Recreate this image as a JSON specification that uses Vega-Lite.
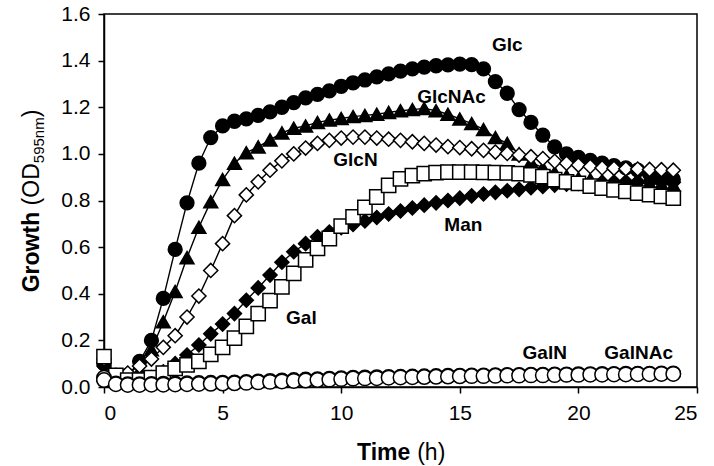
{
  "$schema": "https://vega.github.io/schema/vega-lite/v6.json",
  "width": 593,
  "height": 373,
  "autosize": {"type": "none"},
  "padding": {"left": 104, "top": 14, "right": 17, "bottom": 79},
  "background": "white",
  "config": {
    "view": {"stroke": "black", "strokeWidth": 1.5},
    "axis": {
      "grid": false,
      "domainColor": "black",
      "domainWidth": 1.5,
      "tickColor": "black",
      "tickWidth": 1.5,
      "tickSize": 6,
      "labelFont": "Liberation Sans",
      "labelFontSize": 21,
      "labelColor": "black",
      "titleFont": "Liberation Sans",
      "titleFontSize": 23,
      "titleColor": "black",
      "titleBaseline": "alphabetic"
    }
  },
  "resolve": {"axis": {"x": "independent", "y": "independent"}},
  "datasets": {
    "series": [
      {"s":"Glc","t":0,"v":0.10},{"s":"Glc","t":0.5,"v":0.03},{"s":"Glc","t":1,"v":0.05},{"s":"Glc","t":1.5,"v":0.11},{"s":"Glc","t":2,"v":0.20},{"s":"Glc","t":2.5,"v":0.38},{"s":"Glc","t":3,"v":0.59},{"s":"Glc","t":3.5,"v":0.79},{"s":"Glc","t":4,"v":0.96},{"s":"Glc","t":4.5,"v":1.07},{"s":"Glc","t":5,"v":1.12},{"s":"Glc","t":5.5,"v":1.14},{"s":"Glc","t":6,"v":1.15},{"s":"Glc","t":6.5,"v":1.165},{"s":"Glc","t":7,"v":1.18},{"s":"Glc","t":7.5,"v":1.2},{"s":"Glc","t":8,"v":1.22},{"s":"Glc","t":8.5,"v":1.24},{"s":"Glc","t":9,"v":1.255},{"s":"Glc","t":9.5,"v":1.27},{"s":"Glc","t":10,"v":1.29},{"s":"Glc","t":10.5,"v":1.305},{"s":"Glc","t":11,"v":1.317},{"s":"Glc","t":11.5,"v":1.33},{"s":"Glc","t":12,"v":1.343},{"s":"Glc","t":12.5,"v":1.355},{"s":"Glc","t":13,"v":1.365},{"s":"Glc","t":13.5,"v":1.372},{"s":"Glc","t":14,"v":1.378},{"s":"Glc","t":14.5,"v":1.382},{"s":"Glc","t":15,"v":1.385},{"s":"Glc","t":15.5,"v":1.383},{"s":"Glc","t":16,"v":1.365},{"s":"Glc","t":16.5,"v":1.31},{"s":"Glc","t":17,"v":1.26},{"s":"Glc","t":17.5,"v":1.19},{"s":"Glc","t":18,"v":1.135},{"s":"Glc","t":18.5,"v":1.08},{"s":"Glc","t":19,"v":1.03},{"s":"Glc","t":19.5,"v":1.0},{"s":"Glc","t":20,"v":0.985},{"s":"Glc","t":20.5,"v":0.972},{"s":"Glc","t":21,"v":0.96},{"s":"Glc","t":21.5,"v":0.95},{"s":"Glc","t":22,"v":0.94},{"s":"Glc","t":22.5,"v":0.93},{"s":"Glc","t":23,"v":0.915},{"s":"Glc","t":23.5,"v":0.905},{"s":"Glc","t":24,"v":0.89},
      {"s":"GlcNAc","t":0,"v":0.05},{"s":"GlcNAc","t":0.5,"v":0.03},{"s":"GlcNAc","t":1,"v":0.04},{"s":"GlcNAc","t":1.5,"v":0.07},{"s":"GlcNAc","t":2,"v":0.16},{"s":"GlcNAc","t":2.5,"v":0.28},{"s":"GlcNAc","t":3,"v":0.41},{"s":"GlcNAc","t":3.5,"v":0.555},{"s":"GlcNAc","t":4,"v":0.685},{"s":"GlcNAc","t":4.5,"v":0.795},{"s":"GlcNAc","t":5,"v":0.89},{"s":"GlcNAc","t":5.5,"v":0.96},{"s":"GlcNAc","t":6,"v":1.005},{"s":"GlcNAc","t":6.5,"v":1.03},{"s":"GlcNAc","t":7,"v":1.06},{"s":"GlcNAc","t":7.5,"v":1.09},{"s":"GlcNAc","t":8,"v":1.11},{"s":"GlcNAc","t":8.5,"v":1.12},{"s":"GlcNAc","t":9,"v":1.135},{"s":"GlcNAc","t":9.5,"v":1.145},{"s":"GlcNAc","t":10,"v":1.152},{"s":"GlcNAc","t":10.5,"v":1.16},{"s":"GlcNAc","t":11,"v":1.165},{"s":"GlcNAc","t":11.5,"v":1.17},{"s":"GlcNAc","t":12,"v":1.178},{"s":"GlcNAc","t":12.5,"v":1.185},{"s":"GlcNAc","t":13,"v":1.19},{"s":"GlcNAc","t":13.5,"v":1.195},{"s":"GlcNAc","t":14,"v":1.185},{"s":"GlcNAc","t":14.5,"v":1.17},{"s":"GlcNAc","t":15,"v":1.15},{"s":"GlcNAc","t":15.5,"v":1.13},{"s":"GlcNAc","t":16,"v":1.105},{"s":"GlcNAc","t":16.5,"v":1.07},{"s":"GlcNAc","t":17,"v":1.045},{"s":"GlcNAc","t":17.5,"v":1.0},{"s":"GlcNAc","t":18,"v":0.965},{"s":"GlcNAc","t":18.5,"v":0.94},{"s":"GlcNAc","t":19,"v":0.92},{"s":"GlcNAc","t":19.5,"v":0.905},{"s":"GlcNAc","t":20,"v":0.895},{"s":"GlcNAc","t":20.5,"v":0.89},{"s":"GlcNAc","t":21,"v":0.885},{"s":"GlcNAc","t":21.5,"v":0.88},{"s":"GlcNAc","t":22,"v":0.878},{"s":"GlcNAc","t":22.5,"v":0.875},{"s":"GlcNAc","t":23,"v":0.872},{"s":"GlcNAc","t":23.5,"v":0.87},{"s":"GlcNAc","t":24,"v":0.865},
      {"s":"Man","t":0,"v":0.09},{"s":"Man","t":0.5,"v":0.04},{"s":"Man","t":1,"v":0.03},{"s":"Man","t":1.5,"v":0.03},{"s":"Man","t":2,"v":0.04},{"s":"Man","t":2.5,"v":0.065},{"s":"Man","t":3,"v":0.10},{"s":"Man","t":3.5,"v":0.137},{"s":"Man","t":4,"v":0.18},{"s":"Man","t":4.5,"v":0.228},{"s":"Man","t":5,"v":0.27},{"s":"Man","t":5.5,"v":0.315},{"s":"Man","t":6,"v":0.372},{"s":"Man","t":6.5,"v":0.425},{"s":"Man","t":7,"v":0.48},{"s":"Man","t":7.5,"v":0.535},{"s":"Man","t":8,"v":0.58},{"s":"Man","t":8.5,"v":0.615},{"s":"Man","t":9,"v":0.644},{"s":"Man","t":9.5,"v":0.665},{"s":"Man","t":10,"v":0.683},{"s":"Man","t":10.5,"v":0.697},{"s":"Man","t":11,"v":0.712},{"s":"Man","t":11.5,"v":0.727},{"s":"Man","t":12,"v":0.742},{"s":"Man","t":12.5,"v":0.755},{"s":"Man","t":13,"v":0.768},{"s":"Man","t":13.5,"v":0.78},{"s":"Man","t":14,"v":0.79},{"s":"Man","t":14.5,"v":0.8},{"s":"Man","t":15,"v":0.81},{"s":"Man","t":15.5,"v":0.82},{"s":"Man","t":16,"v":0.828},{"s":"Man","t":16.5,"v":0.835},{"s":"Man","t":17,"v":0.842},{"s":"Man","t":17.5,"v":0.848},{"s":"Man","t":18,"v":0.855},{"s":"Man","t":18.5,"v":0.86},{"s":"Man","t":19,"v":0.866},{"s":"Man","t":19.5,"v":0.87},{"s":"Man","t":20,"v":0.873},{"s":"Man","t":20.5,"v":0.876},{"s":"Man","t":21,"v":0.878},{"s":"Man","t":21.5,"v":0.879},{"s":"Man","t":22,"v":0.88},{"s":"Man","t":22.5,"v":0.88},{"s":"Man","t":23,"v":0.88},{"s":"Man","t":23.5,"v":0.879},{"s":"Man","t":24,"v":0.878},
      {"s":"GlcN","t":0,"v":0.12},{"s":"GlcN","t":0.5,"v":0.05},{"s":"GlcN","t":1,"v":0.06},{"s":"GlcN","t":1.5,"v":0.09},{"s":"GlcN","t":2,"v":0.12},{"s":"GlcN","t":2.5,"v":0.17},{"s":"GlcN","t":3,"v":0.22},{"s":"GlcN","t":3.5,"v":0.30},{"s":"GlcN","t":4,"v":0.39},{"s":"GlcN","t":4.5,"v":0.50},{"s":"GlcN","t":5,"v":0.615},{"s":"GlcN","t":5.5,"v":0.735},{"s":"GlcN","t":6,"v":0.824},{"s":"GlcN","t":6.5,"v":0.88},{"s":"GlcN","t":7,"v":0.93},{"s":"GlcN","t":7.5,"v":0.97},{"s":"GlcN","t":8,"v":1.0},{"s":"GlcN","t":8.5,"v":1.025},{"s":"GlcN","t":9,"v":1.045},{"s":"GlcN","t":9.5,"v":1.058},{"s":"GlcN","t":10,"v":1.068},{"s":"GlcN","t":10.5,"v":1.072},{"s":"GlcN","t":11,"v":1.072},{"s":"GlcN","t":11.5,"v":1.068},{"s":"GlcN","t":12,"v":1.063},{"s":"GlcN","t":12.5,"v":1.058},{"s":"GlcN","t":13,"v":1.052},{"s":"GlcN","t":13.5,"v":1.045},{"s":"GlcN","t":14,"v":1.038},{"s":"GlcN","t":14.5,"v":1.031},{"s":"GlcN","t":15,"v":1.027},{"s":"GlcN","t":15.5,"v":1.022},{"s":"GlcN","t":16,"v":1.015},{"s":"GlcN","t":16.5,"v":1.008},{"s":"GlcN","t":17,"v":1.002},{"s":"GlcN","t":17.5,"v":0.995},{"s":"GlcN","t":18,"v":0.988},{"s":"GlcN","t":18.5,"v":0.98},{"s":"GlcN","t":19,"v":0.968},{"s":"GlcN","t":19.5,"v":0.96},{"s":"GlcN","t":20,"v":0.952},{"s":"GlcN","t":20.5,"v":0.946},{"s":"GlcN","t":21,"v":0.94},{"s":"GlcN","t":21.5,"v":0.938},{"s":"GlcN","t":22,"v":0.936},{"s":"GlcN","t":22.5,"v":0.935},{"s":"GlcN","t":23,"v":0.933},{"s":"GlcN","t":23.5,"v":0.932},{"s":"GlcN","t":24,"v":0.93},
      {"s":"Gal","t":0,"v":0.13},{"s":"Gal","t":0.5,"v":0.05},{"s":"Gal","t":1,"v":0.03},{"s":"Gal","t":1.5,"v":0.03},{"s":"Gal","t":2,"v":0.04},{"s":"Gal","t":2.5,"v":0.06},{"s":"Gal","t":3,"v":0.08},{"s":"Gal","t":3.5,"v":0.095},{"s":"Gal","t":4,"v":0.11},{"s":"Gal","t":4.5,"v":0.14},{"s":"Gal","t":5,"v":0.17},{"s":"Gal","t":5.5,"v":0.21},{"s":"Gal","t":6,"v":0.26},{"s":"Gal","t":6.5,"v":0.315},{"s":"Gal","t":7,"v":0.37},{"s":"Gal","t":7.5,"v":0.43},{"s":"Gal","t":8,"v":0.487},{"s":"Gal","t":8.5,"v":0.545},{"s":"Gal","t":9,"v":0.595},{"s":"Gal","t":9.5,"v":0.637},{"s":"Gal","t":10,"v":0.69},{"s":"Gal","t":10.5,"v":0.73},{"s":"Gal","t":11,"v":0.77},{"s":"Gal","t":11.5,"v":0.815},{"s":"Gal","t":12,"v":0.865},{"s":"Gal","t":12.5,"v":0.893},{"s":"Gal","t":13,"v":0.907},{"s":"Gal","t":13.5,"v":0.915},{"s":"Gal","t":14,"v":0.92},{"s":"Gal","t":14.5,"v":0.922},{"s":"Gal","t":15,"v":0.922},{"s":"Gal","t":15.5,"v":0.922},{"s":"Gal","t":16,"v":0.921},{"s":"Gal","t":16.5,"v":0.92},{"s":"Gal","t":17,"v":0.918},{"s":"Gal","t":17.5,"v":0.915},{"s":"Gal","t":18,"v":0.91},{"s":"Gal","t":18.5,"v":0.902},{"s":"Gal","t":19,"v":0.89},{"s":"Gal","t":19.5,"v":0.88},{"s":"Gal","t":20,"v":0.873},{"s":"Gal","t":20.5,"v":0.862},{"s":"Gal","t":21,"v":0.853},{"s":"Gal","t":21.5,"v":0.846},{"s":"Gal","t":22,"v":0.839},{"s":"Gal","t":22.5,"v":0.832},{"s":"Gal","t":23,"v":0.825},{"s":"Gal","t":23.5,"v":0.818},{"s":"Gal","t":24,"v":0.81},
      {"s":"GalN","t":0,"v":0.04},{"s":"GalN","t":0.5,"v":0.015},{"s":"GalN","t":1,"v":0.012},{"s":"GalN","t":1.5,"v":0.012},{"s":"GalN","t":2,"v":0.013},{"s":"GalN","t":2.5,"v":0.014},{"s":"GalN","t":3,"v":0.015},{"s":"GalN","t":3.5,"v":0.016},{"s":"GalN","t":4,"v":0.017},{"s":"GalN","t":4.5,"v":0.018},{"s":"GalN","t":5,"v":0.019},{"s":"GalN","t":5.5,"v":0.02},{"s":"GalN","t":6,"v":0.022},{"s":"GalN","t":6.5,"v":0.024},{"s":"GalN","t":7,"v":0.026},{"s":"GalN","t":7.5,"v":0.028},{"s":"GalN","t":8,"v":0.03},{"s":"GalN","t":8.5,"v":0.032},{"s":"GalN","t":9,"v":0.034},{"s":"GalN","t":9.5,"v":0.036},{"s":"GalN","t":10,"v":0.038},{"s":"GalN","t":10.5,"v":0.04},{"s":"GalN","t":11,"v":0.041},{"s":"GalN","t":11.5,"v":0.042},{"s":"GalN","t":12,"v":0.043},{"s":"GalN","t":12.5,"v":0.044},{"s":"GalN","t":13,"v":0.045},{"s":"GalN","t":13.5,"v":0.046},{"s":"GalN","t":14,"v":0.047},{"s":"GalN","t":14.5,"v":0.048},{"s":"GalN","t":15,"v":0.049},{"s":"GalN","t":15.5,"v":0.05},{"s":"GalN","t":16,"v":0.05},{"s":"GalN","t":16.5,"v":0.051},{"s":"GalN","t":17,"v":0.052},{"s":"GalN","t":17.5,"v":0.052},{"s":"GalN","t":18,"v":0.053},{"s":"GalN","t":18.5,"v":0.053},{"s":"GalN","t":19,"v":0.054},{"s":"GalN","t":19.5,"v":0.054},{"s":"GalN","t":20,"v":0.055},{"s":"GalN","t":20.5,"v":0.055},{"s":"GalN","t":21,"v":0.056},{"s":"GalN","t":21.5,"v":0.056},{"s":"GalN","t":22,"v":0.057},{"s":"GalN","t":22.5,"v":0.057},{"s":"GalN","t":23,"v":0.057},{"s":"GalN","t":23.5,"v":0.058},{"s":"GalN","t":24,"v":0.058},
      {"s":"GalNAc","t":0,"v":0.03},{"s":"GalNAc","t":0.5,"v":0.012},{"s":"GalNAc","t":1,"v":0.009},{"s":"GalNAc","t":1.5,"v":0.009},{"s":"GalNAc","t":2,"v":0.01},{"s":"GalNAc","t":2.5,"v":0.01},{"s":"GalNAc","t":3,"v":0.011},{"s":"GalNAc","t":3.5,"v":0.012},{"s":"GalNAc","t":4,"v":0.013},{"s":"GalNAc","t":4.5,"v":0.014},{"s":"GalNAc","t":5,"v":0.015},{"s":"GalNAc","t":5.5,"v":0.016},{"s":"GalNAc","t":6,"v":0.018},{"s":"GalNAc","t":6.5,"v":0.02},{"s":"GalNAc","t":7,"v":0.022},{"s":"GalNAc","t":7.5,"v":0.024},{"s":"GalNAc","t":8,"v":0.026},{"s":"GalNAc","t":8.5,"v":0.028},{"s":"GalNAc","t":9,"v":0.03},{"s":"GalNAc","t":9.5,"v":0.032},{"s":"GalNAc","t":10,"v":0.034},{"s":"GalNAc","t":10.5,"v":0.036},{"s":"GalNAc","t":11,"v":0.037},{"s":"GalNAc","t":11.5,"v":0.038},{"s":"GalNAc","t":12,"v":0.04},{"s":"GalNAc","t":12.5,"v":0.041},{"s":"GalNAc","t":13,"v":0.042},{"s":"GalNAc","t":13.5,"v":0.043},{"s":"GalNAc","t":14,"v":0.044},{"s":"GalNAc","t":14.5,"v":0.045},{"s":"GalNAc","t":15,"v":0.046},{"s":"GalNAc","t":15.5,"v":0.047},{"s":"GalNAc","t":16,"v":0.047},{"s":"GalNAc","t":16.5,"v":0.048},{"s":"GalNAc","t":17,"v":0.049},{"s":"GalNAc","t":17.5,"v":0.049},{"s":"GalNAc","t":18,"v":0.05},{"s":"GalNAc","t":18.5,"v":0.05},{"s":"GalNAc","t":19,"v":0.051},{"s":"GalNAc","t":19.5,"v":0.052},{"s":"GalNAc","t":20,"v":0.052},{"s":"GalNAc","t":20.5,"v":0.053},{"s":"GalNAc","t":21,"v":0.053},{"s":"GalNAc","t":21.5,"v":0.054},{"s":"GalNAc","t":22,"v":0.054},{"s":"GalNAc","t":22.5,"v":0.055},{"s":"GalNAc","t":23,"v":0.055},{"s":"GalNAc","t":23.5,"v":0.056},{"s":"GalNAc","t":24,"v":0.056}
    ],
    "labels": [
      {"label":"Glc","t":17.0,"v":1.467},
      {"label":"GlcNAc","t":14.65,"v":1.245},
      {"label":"GlcN","t":10.6,"v":0.974},
      {"label":"Gal","t":8.32,"v":0.295},
      {"label":"Man","t":15.15,"v":0.695},
      {"label":"GalN","t":18.58,"v":0.145},
      {"label":"GalNAc","t":22.54,"v":0.145}
    ]
  },
  "layer": [
    {
      "data": {"name": "series"},
      "mark": {"type": "line", "color": "black", "strokeWidth": 1.4, "clip": true},
      "encoding": {
        "x": {"field": "t", "type": "quantitative", "scale": {"domain": [0, 25], "nice": false},
              "axis": {"orient": "bottom", "values": [0,5,10,15,20,25], "labelPadding": 9,
                       "title": "Time", "titleFontWeight": "bold", "titleAlign": "left", "titleAngle": 0,
                       "titleX": 252.6, "titleY": 72}},
        "y": {"field": "v", "type": "quantitative", "scale": {"domain": [0, 1.6], "nice": false},
              "axis": {"orient": "left", "values": [0,0.2,0.4,0.6,0.8,1.0,1.2,1.4,1.6], "format": ".1f", "labelPadding": 8,
                       "title": "Growth", "titleFontWeight": "bold", "titleAlign": "left", "titleAngle": 270,
                       "titleX": -66, "titleY": 277.8}},
        "detail": {"field": "s", "type": "nominal"}
      }
    },
    {
      "data": {"name": "series"},
      "mark": {"type": "point", "filled": true, "stroke": "black", "strokeWidth": 1.5, "opacity": 1},
      "encoding": {
        "x": {"field": "t", "type": "quantitative", "axis": null},
        "y": {"field": "v", "type": "quantitative", "axis": null},
        "shape": {"field": "s", "type": "nominal", "legend": null,
                  "scale": {"domain": ["Glc","GlcNAc","Man","GlcN","Gal","GalN","GalNAc"],
                            "range": ["circle","triangle-up","diamond","diamond","square","circle","circle"]}},
        "fill": {"field": "s", "type": "nominal", "legend": null,
                 "scale": {"domain": ["Glc","GlcNAc","Man","GlcN","Gal","GalN","GalNAc"],
                           "range": ["black","black","black","white","white","white","white"]}},
        "size": {"field": "s", "type": "nominal", "legend": null,
                 "scale": {"domain": ["Glc","GlcNAc","Man","GlcN","Gal","GalN","GalNAc"],
                           "range": [190, 210, 140, 150, 140, 144, 144]}}
      }
    },
    {
      "data": {"name": "labels"},
      "mark": {"type": "text", "font": "Liberation Sans", "fontWeight": "bold", "fontSize": 19, "color": "black", "align": "center", "baseline": "middle"},
      "encoding": {
        "x": {"field": "t", "type": "quantitative",
              "axis": {"orient": "bottom", "labels": false, "ticks": false, "domain": false,
                       "title": "(h)", "titleFontWeight": "normal", "titleAlign": "left", "titleAngle": 0,
                       "titleX": 312.7, "titleY": 72}},
        "y": {"field": "v", "type": "quantitative",
              "axis": {"orient": "left", "labels": false, "ticks": false, "domain": false,
                       "title": "(OD", "titleFontWeight": "normal", "titleAlign": "left", "titleAngle": 270,
                       "titleX": -66, "titleY": 190.9}},
        "text": {"field": "label", "type": "nominal"}
      }
    },
    {
      "data": {"name": "labels"},
      "mark": {"type": "point", "opacity": 0},
      "encoding": {
        "x": {"field": "t", "type": "quantitative", "axis": null},
        "y": {"field": "v", "type": "quantitative",
              "axis": {"orient": "left", "labels": false, "ticks": false, "domain": false,
                       "title": "595nm", "titleFontWeight": "normal", "titleFontSize": 15, "titleAlign": "left", "titleAngle": 270,
                       "titleX": -61, "titleY": 148.7}}
      }
    },
    {
      "data": {"name": "labels"},
      "mark": {"type": "point", "opacity": 0},
      "encoding": {
        "x": {"field": "t", "type": "quantitative", "axis": null},
        "y": {"field": "v", "type": "quantitative",
              "axis": {"orient": "left", "labels": false, "ticks": false, "domain": false,
                       "title": ")", "titleFontWeight": "normal", "titleAlign": "left", "titleAngle": 270,
                       "titleX": -66, "titleY": 102.8}}
      }
    }
  ]
}
